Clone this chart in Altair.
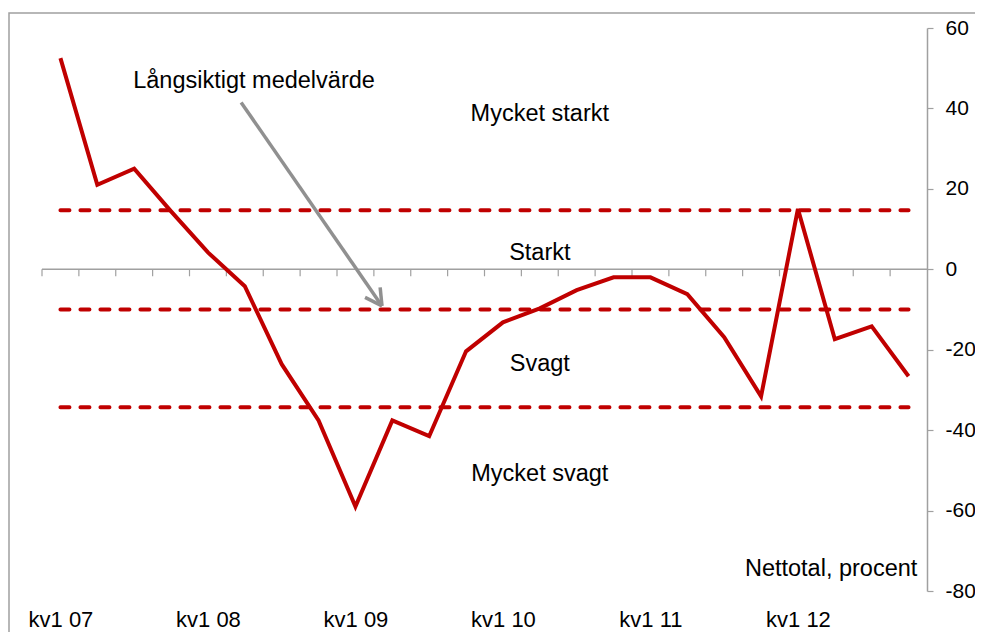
import altair as alt
import pandas as pd

# ---- data ----
quarters = ["kv1 07", "kv2 07", "kv3 07", "kv4 07",
            "kv1 08", "kv2 08", "kv3 08", "kv4 08",
            "kv1 09", "kv2 09", "kv3 09", "kv4 09",
            "kv1 10", "kv2 10", "kv3 10", "kv4 10",
            "kv1 11", "kv2 11", "kv3 11", "kv4 11",
            "kv1 12", "kv2 12", "kv3 12", "kv4 12"]
values = [52.5, 21, 25, 14.4, 4.2, -4.2, -23.6, -37.6, -59, -37.6, -41.5, -20.4,
          -13.2, -9.7, -5.2, -2, -2, -6.2, -16.9, -31.6, 15, -17.4, -14.2, -26.6]
band_levels = [14.7, -10.0, -34.3]
band_labels = ["Mycket starkt", "Starkt", "Svagt", "Mycket svagt"]
band_label_y = [38.6, 4.0, -23.6, -51.0]
band_label_x = [13.0, 13.0, 13.0, 13.0]
mean_label = "Långsiktigt medelvärde"
mean_label_pos = [5.25, 46.8]
unit_label = "Nettotal, procent"
unit_label_pos = [20.9, -74.6]
arrow_x = [4.9, 8.72, 8.72]
arrow_y = [41.5, -9.1, -9.1]
arrow_x2 = [8.72, 8.26, 8.67]
arrow_y2 = [-9.1, -7.0, -4.5]
y_ticks = [-80, -60, -40, -20, 0, 20, 40, 60]
x_label_idx = [0, 4, 8, 12, 16, 20]

FONT = "Liberation Sans"
RED = "#C00000"
GRAY = "#a0a0a0"

n = len(quarters)
df = pd.DataFrame({"x": list(range(n)), "q": quarters, "y": values})

xscale = alt.Scale(domain=[-0.5, n - 0.5], nice=False, zero=False)
yscale = alt.Scale(domain=[-80, 60], nice=False, zero=False)

label_expr = "[" + ",".join("'%s'" % q for q in quarters) + "][datum.value]"

xaxis = alt.Axis(values=x_label_idx, labelExpr=label_expr, domain=False,
                 ticks=False, grid=False, labelFont=FONT, labelFontSize=22,
                 labelColor="black", labelPadding=18, title=None,
                 labelFlush=False, labelOverlap=False)
yaxis = alt.Axis(orient="right", values=y_ticks, domainColor=GRAY,
                 labelExpr="'' + datum.value",
                 domainWidth=1.5, tickColor=GRAY, tickWidth=1.2, tickSize=6,
                 grid=False, labelFont=FONT, labelFontSize=21,
                 labelColor="black", labelPadding=12, title=None)


def X(field="x"):
    return alt.X(field + ":Q", scale=xscale, axis=xaxis)


def Y(field="y"):
    return alt.Y(field + ":Q", scale=yscale, axis=yaxis)


border = alt.Chart(pd.DataFrame({"a": [0]})).mark_rect(
    fillOpacity=0, stroke=GRAY, strokeWidth=1.5
).encode(x=alt.value(-33), x2=alt.value(960), y=alt.value(-15), y2=alt.value(700))

zero_df = pd.DataFrame({"x": [-0.5], "x2": [n - 0.5], "y": [0]})
zero_line = alt.Chart(zero_df).mark_rule(color=GRAY, strokeWidth=1.5).encode(
    x=X(), x2="x2:Q", y=Y())

tick_df = pd.DataFrame({"x": [i - 0.5 for i in range(n)], "y": 0.0, "y2": -1.74})
cat_ticks = alt.Chart(tick_df).mark_rule(color=GRAY, strokeWidth=1.2).encode(
    x=X(), y=Y(), y2="y2:Q")

dash_df = pd.DataFrame({"y": band_levels, "x": 0, "x2": n - 1})
dashes = alt.Chart(dash_df).mark_rule(
    color=RED, strokeWidth=4, strokeDash=[9, 11], strokeCap="round"
).encode(x=X(), x2="x2:Q", y=Y())

line = alt.Chart(df).mark_line(color=RED, strokeWidth=4, strokeJoin="miter").encode(
    x=X(), y=Y())

arrow_df = pd.DataFrame({"x": arrow_x, "y": arrow_y, "x2": arrow_x2, "y2": arrow_y2})
arrow = alt.Chart(arrow_df).mark_rule(color="#909090", strokeWidth=3.5).encode(
    x=X(), x2="x2:Q", y=Y(), y2="y2:Q")

txt_df = pd.DataFrame({
    "t": band_labels + [mean_label, unit_label],
    "x": band_label_x + [mean_label_pos[0], unit_label_pos[0]],
    "y": band_label_y + [mean_label_pos[1], unit_label_pos[1]],
})
texts = alt.Chart(txt_df).mark_text(
    font=FONT, fontSize=23.5, color="black", align="center", baseline="middle"
).encode(x=X(), y=Y(), text="t:N")

chart = alt.layer(border, zero_line, cat_ticks, dashes, arrow, line, texts).properties(
    width=885, height=563,
    background="white",
    autosize=alt.AutoSizeParams(type="none"),
    padding={"left": 34, "top": 20, "right": 48, "bottom": 41},
).configure_view(strokeWidth=0)

chart.save("out.html", embed_options={"renderer": "svg", "actions": False})
